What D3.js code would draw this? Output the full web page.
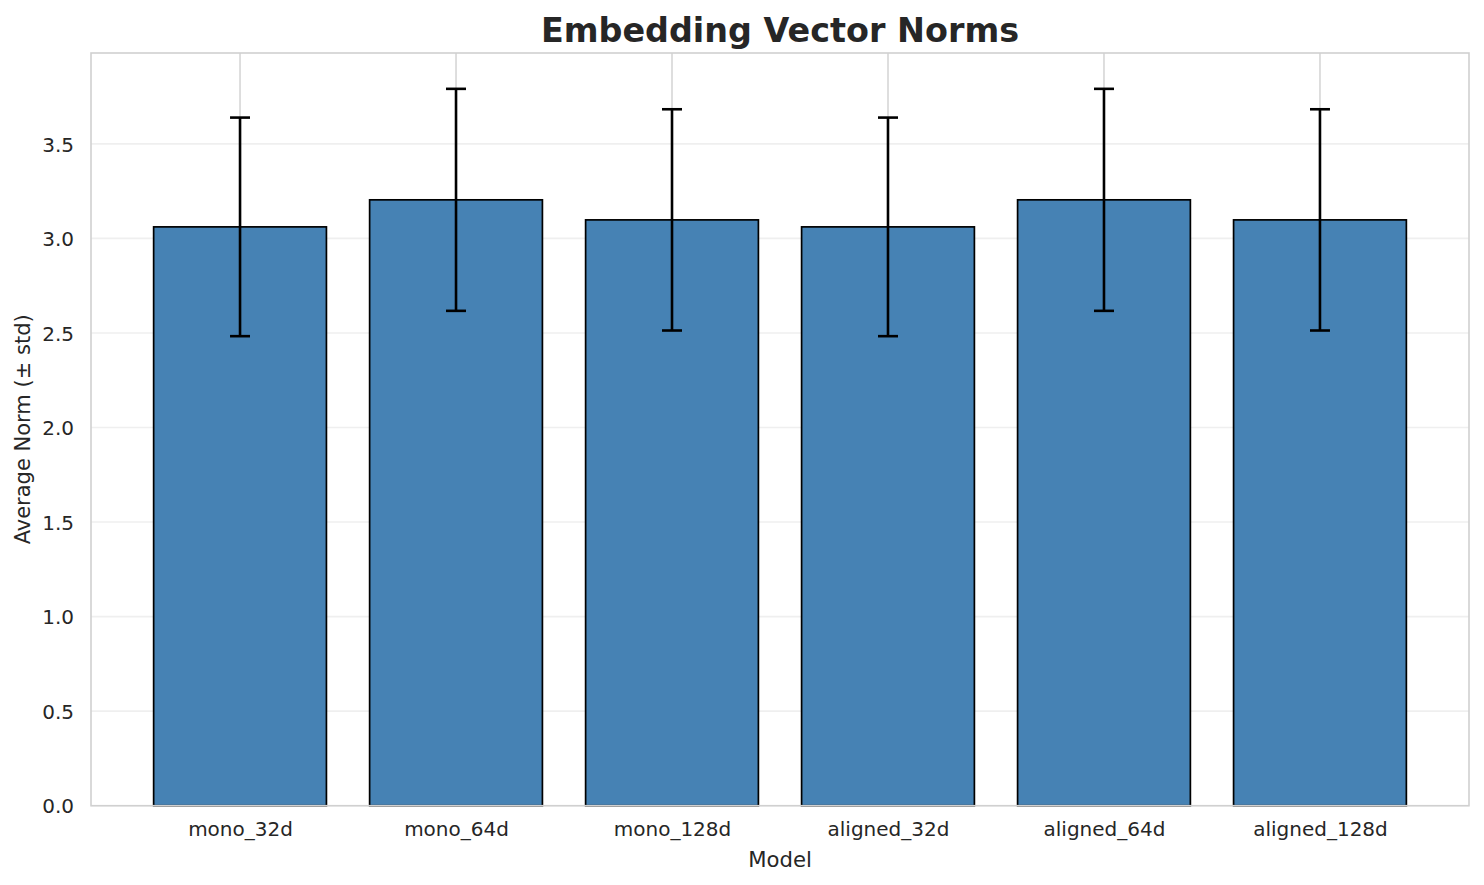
<!DOCTYPE html>
<html>
<head>
<meta charset="utf-8">
<script src="https://cdn.jsdelivr.net/npm/d3@7"></script>
<style>
  html, body { margin: 0; padding: 0; background: #ffffff; }
  svg { display: block; }
  text { font-family: "DejaVu Sans", sans-serif; fill: #262626; }
</style>
</head>
<body>
<script>
// ---- data ----
const categories = ["mono_32d", "mono_64d", "mono_128d", "aligned_32d", "aligned_64d", "aligned_128d"];
const meanNorms  = [3.061, 3.204, 3.098, 3.061, 3.204, 3.098];
const stdNorms   = [0.578, 0.587, 0.585, 0.578, 0.587, 0.585];
const yTicks     = [0.0, 0.5, 1.0, 1.5, 2.0, 2.5, 3.0, 3.5];
const titleText  = "Embedding Vector Norms";
const xLabelText = "Model";
const yLabelText = "Average Norm (± std)";

const W = 1484, H = 885;
const plot = { left: 91, right: 1469, top: 53, bottom: 805.7 };

const svg = d3.select("body").append("svg").attr("width", W).attr("height", H);

// matplotlib-like bar layout: positions 0..n-1, width 0.8, 5% margins
const n = categories.length;
const xLo = -0.4 - 0.05 * (n - 1 + 0.8), xHi = (n - 1) + 0.4 + 0.05 * (n - 1 + 0.8);
const x = d3.scaleLinear().domain([xLo, xHi]).range([plot.left, plot.right]);
const yMax = d3.max(meanNorms.map((m, i) => m + stdNorms[i])) * 1.05;
const y = d3.scaleLinear().domain([0, yMax]).range([plot.bottom, plot.top]);

// horizontal grid (very light)
svg.append("g").selectAll("line").data(yTicks).join("line")
  .attr("x1", plot.left).attr("x2", plot.right)
  .attr("y1", d => y(d)).attr("y2", d => y(d))
  .attr("stroke", "#efefef").attr("stroke-width", 1.6);

// vertical grid at categories
svg.append("g").selectAll("line").data(categories).join("line")
  .attr("x1", (d, i) => x(i)).attr("x2", (d, i) => x(i))
  .attr("y1", plot.top).attr("y2", plot.bottom)
  .attr("stroke", "#d6d6d6").attr("stroke-width", 1.6);

// bars
svg.append("g").selectAll("rect").data(meanNorms).join("rect")
  .attr("x", (d, i) => x(i - 0.4))
  .attr("width", (d, i) => x(i + 0.4) - x(i - 0.4))
  .attr("y", d => y(d))
  .attr("height", d => y(0) - y(d))
  .attr("fill", "#4682b4")
  .attr("stroke", "#000").attr("stroke-width", 1.7);

// error bars
const eg = svg.append("g").attr("stroke", "#000").attr("stroke-width", 2.6);
meanNorms.forEach((m, i) => {
  const cx = x(i), top = y(m + stdNorms[i]), bot = y(m - stdNorms[i]);
  eg.append("line").attr("x1", cx).attr("x2", cx).attr("y1", top).attr("y2", bot);
  eg.append("line").attr("x1", cx - 10).attr("x2", cx + 10).attr("y1", top).attr("y2", top);
  eg.append("line").attr("x1", cx - 10).attr("x2", cx + 10).attr("y1", bot).attr("y2", bot);
});

// spines
svg.append("rect")
  .attr("x", plot.left).attr("y", plot.top)
  .attr("width", plot.right - plot.left).attr("height", plot.bottom - plot.top)
  .attr("fill", "none").attr("stroke", "#d0d0d0").attr("stroke-width", 1.6);

// y axis tick labels
const yAxis = d3.axisLeft(y).tickValues(yTicks).tickFormat(d3.format(".1f")).tickSize(0).tickPadding(17);
const ya = svg.append("g").attr("transform", `translate(${plot.left},0)`).call(yAxis);
ya.select(".domain").remove();
ya.selectAll("text").attr("font-size", 20).attr("fill", "#262626")
  .attr("font-family", "DejaVu Sans, sans-serif").attr("dy", "0.36em");

// x axis tick labels
const xBand = d3.scaleOrdinal().domain(categories).range(categories.map((c, i) => x(i)));
const xAxis = d3.axisBottom(xBand).tickSize(0).tickPadding(16);
const xa = svg.append("g").attr("transform", `translate(0,${plot.bottom})`).call(xAxis);
xa.select(".domain").remove();
xa.selectAll("text").attr("font-size", 20).attr("fill", "#262626")
  .attr("font-family", "DejaVu Sans, sans-serif");

// title
svg.append("text").attr("x", (plot.left + plot.right) / 2).attr("y", 41.5)
  .attr("text-anchor", "middle").attr("font-size", 33.4).attr("font-weight", "bold")
  .text(titleText);

// x label
svg.append("text").attr("x", (plot.left + plot.right) / 2).attr("y", 867)
  .attr("text-anchor", "middle").attr("font-size", 21.2).text(xLabelText);

// y label
svg.append("text")
  .attr("transform", `translate(29.5,${(plot.top + plot.bottom) / 2}) rotate(-90)`)
  .attr("text-anchor", "middle").attr("font-size", 21).text(yLabelText);
</script>
</body>
</html>
